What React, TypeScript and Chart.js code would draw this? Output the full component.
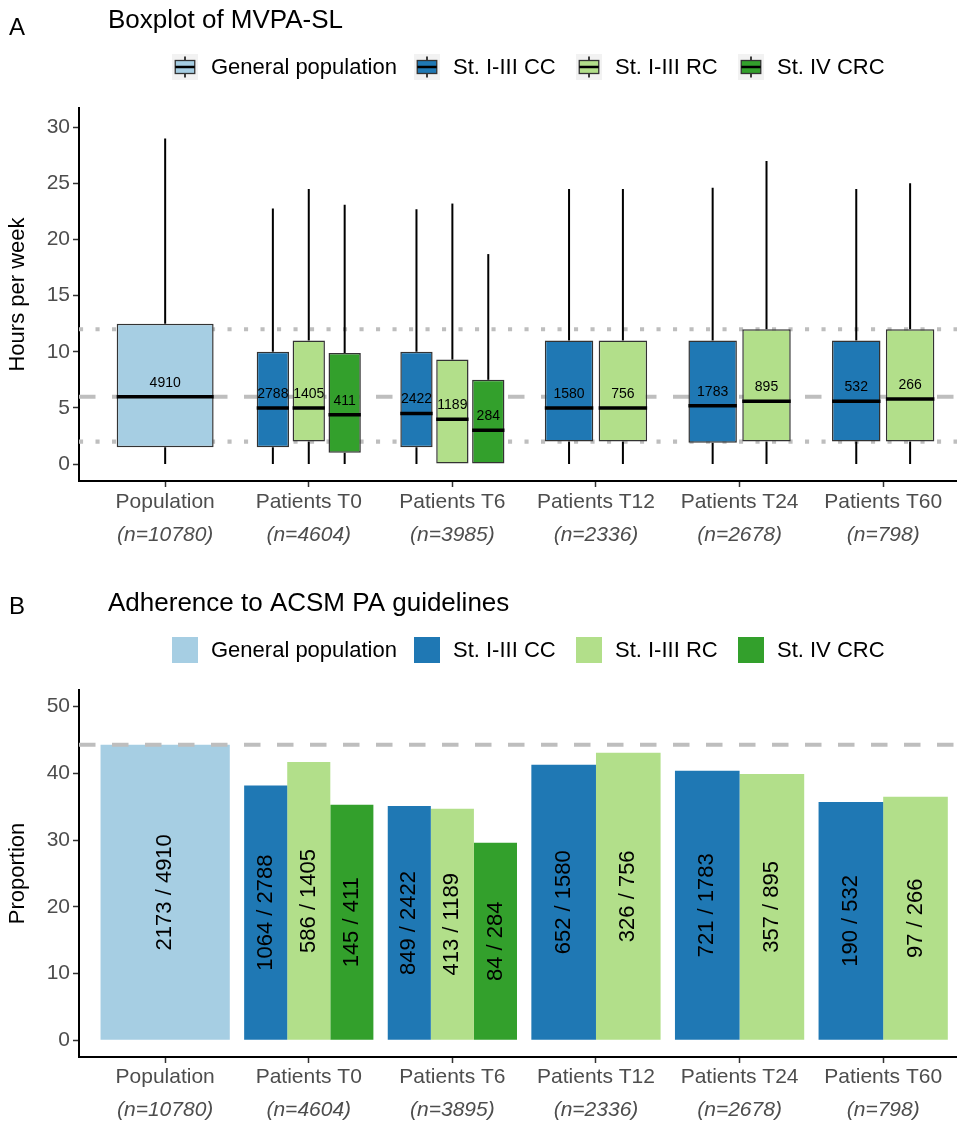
import React, { useEffect, useRef } from 'react';
import { Chart, registerables } from 'chart.js';

Chart.register(...registerables);

const FONT = '"Liberation Sans", Arial, Helvetica, sans-serif';

// ---------- shared categories / series ----------
const categories = ['Population', 'Patients T0', 'Patients T6', 'Patients T12', 'Patients T24', 'Patients T60'];
const boxSampleLabels = ['(n=10780)', '(n=4604)', '(n=3985)', '(n=2336)', '(n=2678)', '(n=798)'];
const barSampleLabels = ['(n=10780)', '(n=4604)', '(n=3895)', '(n=2336)', '(n=2678)', '(n=798)'];
const seriesNames = ['General population', 'St. I-III CC', 'St. I-III RC', 'St. IV CRC'];
const seriesColors = ['#A6CEE3', '#1F78B4', '#B2DF8A', '#33A02C'];

// ---------- panel A: boxplot stats [min, q1, median, q3, max] ----------
const boxGeneral = [[0, 1.5, 6, 12.5, 29], null, null, null, null, null];
const boxCC = [null, [0, 1.5, 5, 10, 22.75], [0, 1.5, 4.5, 10, 22.7], [0, 2, 5, 11, 24.5], [0, 1.9, 5.2, 11, 24.6], [0, 2, 5.6, 11, 24.5]];
const boxRC = [null, [0, 2, 5, 11, 24.5], [0, 0, 4, 9.3, 23.2], [0, 2, 5, 11, 24.5], [0, 2, 5.6, 12, 27], [0, 2, 5.8, 12, 25]];
const boxCRC = [null, [0, 1, 4.4, 9.9, 23.1], [0, 0, 3, 7.5, 18.7], null, null, null];
const boxCountGeneral = [4910, null, null, null, null, null];
const boxCountCC = [null, 2788, 2422, 1580, 1783, 532];
const boxCountRC = [null, 1405, 1189, 756, 895, 266];
const boxCountCRC = [null, 411, 284, null, null, null];
const boxYTicks = [0, 5, 10, 15, 20, 25, 30];
const boxRefMedian = 6;
const boxRefLow = 2;
const boxRefHigh = 12;

// ---------- panel B: adherence proportions ----------
const propGeneral = [44.3, null, null, null, null, null];
const propCC = [null, 38.2, 35.1, 41.3, 40.4, 35.7];
const propRC = [null, 41.7, 34.7, 43.1, 39.9, 36.5];
const propCRC = [null, 35.3, 29.6, null, null, null];
const numGeneral = [2173, null, null, null, null, null];
const numCC = [null, 1064, 849, 652, 721, 190];
const numRC = [null, 586, 413, 326, 357, 97];
const numCRC = [null, 145, 84, null, null, null];
const denGeneral = [4910, null, null, null, null, null];
const denCC = [null, 2788, 2422, 1580, 1783, 532];
const denRC = [null, 1405, 1189, 756, 895, 266];
const denCRC = [null, 411, 284, null, null, null];
const barYTicks = [0, 10, 20, 30, 40, 50];
const barRefLine = 44.3;

// ---------- layout helpers ----------
const X_MIN = 0.4;
const X_MAX = 6.514;
const xTickValues = categories.map((_, i) => i + 1);

type Item = { s: number; c: number; n: number; x: number; width: number };

function placeItems(series: any[][], total: number, fill: number): Item[] {
  const items: Item[] = [];
  for (let c = 0; c < categories.length; c++) {
    const present: number[] = [];
    series.forEach((arr, s) => { if (arr[c] != null) present.push(s); });
    const n = present.length;
    const slot = total / n;
    present.forEach((s, k) => {
      items.push({ s, c, n, x: c + 1 + (k - (n - 1) / 2) * slot, width: slot * fill });
    });
  }
  return items;
}

function minSpacing(items: Item[]): number {
  const xs = Array.from(new Set(items.map((it) => it.x))).sort((a, b) => a - b);
  let m = Infinity;
  for (let i = 1; i < xs.length; i++) m = Math.min(m, xs[i] - xs[i - 1]);
  for (let i = 1; i < xTickValues.length; i++) m = Math.min(m, xTickValues[i] - xTickValues[i - 1]);
  return m;
}

function buildDatasets(items: Item[], pointFn: (it: Item) => any, extraFn: (it: Item) => any, border: number) {
  const md = minSpacing(items);
  const groups = new Map<string, Item[]>();
  items.forEach((it) => {
    const k = `${it.s}-${it.n}`;
    if (!groups.has(k)) groups.set(k, []);
    groups.get(k)!.push(it);
  });
  const ds: any[] = [];
  groups.forEach((its) => {
    const s = its[0].s;
    ds.push({
      type: 'bar',
      label: seriesNames[s],
      data: its.map(pointFn),
      extra: its.map(extraFn),
      backgroundColor: seriesColors[s],
      borderColor: '#333333',
      borderWidth: border,
      borderSkipped: false,
      grouped: false,
      categoryPercentage: 1,
      barPercentage: its[0].width / md,
    });
  });
  return ds;
}

function hLine(ctx: CanvasRenderingContext2D, area: any, y: number, dash: number[], width: number) {
  ctx.save();
  ctx.strokeStyle = '#BEBEBE';
  ctx.lineWidth = width;
  ctx.lineCap = 'butt';
  ctx.setLineDash(dash);
  ctx.beginPath();
  ctx.moveTo(area.left, y);
  ctx.lineTo(area.right, y);
  ctx.stroke();
  ctx.restore();
}

function drawHeader(ctx: CanvasRenderingContext2D, tag: string, title: string, tagY: number, titleY: number) {
  ctx.save();
  ctx.fillStyle = '#000';
  ctx.textBaseline = 'middle';
  ctx.textAlign = 'left';
  ctx.font = `24px ${FONT}`;
  ctx.fillText(tag, 9, tagY);
  ctx.font = `26px ${FONT}`;
  ctx.fillText(title, 108, titleY);
  ctx.restore();
}

function drawLegend(ctx: CanvasRenderingContext2D, y: number, kind: 'box' | 'bar') {
  const keyXs = [172, 414, 576, 738];
  const k = 26;
  ctx.save();
  seriesNames.forEach((name, i) => {
    const kx = keyXs[i];
    const ky = y - k / 2;
    if (kind === 'box') {
      ctx.fillStyle = '#F2F2F2';
      ctx.fillRect(kx, ky, k, k);
      ctx.strokeStyle = '#000';
      ctx.lineWidth = 1.5;
      ctx.beginPath();
      ctx.moveTo(kx + k / 2, ky + k * 0.1);
      ctx.lineTo(kx + k / 2, ky + k * 0.9);
      ctx.stroke();
      ctx.fillStyle = seriesColors[i];
      ctx.fillRect(kx + k * 0.125, ky + k * 0.25, k * 0.75, k * 0.5);
      ctx.strokeStyle = '#333333';
      ctx.lineWidth = 1.3;
      ctx.strokeRect(kx + k * 0.125, ky + k * 0.25, k * 0.75, k * 0.5);
      ctx.strokeStyle = '#000';
      ctx.lineWidth = 2.5;
      ctx.beginPath();
      ctx.moveTo(kx + k * 0.125, ky + k / 2);
      ctx.lineTo(kx + k * 0.875, ky + k / 2);
      ctx.stroke();
    } else {
      ctx.fillStyle = seriesColors[i];
      ctx.fillRect(kx, ky, k, k);
    }
    ctx.fillStyle = '#000';
    ctx.font = `22px ${FONT}`;
    ctx.textBaseline = 'middle';
    ctx.textAlign = 'left';
    ctx.fillText(name, kx + 39, y + 1);
  });
  ctx.restore();
}

function drawXLabels(chart: any, sample: string[], y1: number, y2: number) {
  const { ctx, scales } = chart;
  ctx.save();
  ctx.fillStyle = '#4D4D4D';
  ctx.textAlign = 'center';
  ctx.textBaseline = 'middle';
  categories.forEach((cat, i) => {
    const x = scales.x.getPixelForValue(xTickValues[i]);
    ctx.font = `21px ${FONT}`;
    ctx.fillText(cat, x, y1);
    ctx.font = `italic 21px ${FONT}`;
    ctx.fillText(sample[i], x, y2);
  });
  ctx.restore();
}

function drawYTitle(chart: any, text: string) {
  const { ctx, chartArea } = chart;
  ctx.save();
  ctx.fillStyle = '#000';
  ctx.font = `22px ${FONT}`;
  ctx.textAlign = 'center';
  ctx.textBaseline = 'middle';
  ctx.translate(18, (chartArea.top + chartArea.bottom) / 2);
  ctx.rotate(-Math.PI / 2);
  ctx.fillText(text, 0, 0);
  ctx.restore();
}

function commonScales(yMin: number, yMax: number, yTicks: number[], leftWidth: number, bottomHeight: number) {
  return {
    x: {
      type: 'linear',
      min: X_MIN,
      max: X_MAX,
      offset: false,
      bounds: 'data',
      afterBuildTicks: (s: any) => { s.ticks = xTickValues.map((v) => ({ value: v })); },
      afterFit: (s: any) => { s.height = bottomHeight; },
      ticks: { callback: () => '', padding: 0 },
      grid: { display: true, offset: false, drawOnChartArea: false, drawTicks: true, tickLength: 6, tickColor: '#333333', tickWidth: 1.5 },
      border: { display: true, color: '#000', width: 2 },
    },
    y: {
      type: 'linear',
      min: yMin,
      max: yMax,
      bounds: 'data',
      beginAtZero: false,
      afterBuildTicks: (s: any) => { s.ticks = yTicks.map((v) => ({ value: v })); },
      afterFit: (s: any) => { s.width = leftWidth; },
      ticks: { color: '#4D4D4D', font: { family: FONT, size: 21 }, padding: 3 },
      grid: { display: true, drawOnChartArea: false, drawTicks: true, tickLength: 6, tickColor: '#333333', tickWidth: 1.5 },
      border: { display: true, color: '#000', width: 2 },
    },
  };
}

// ---------- Panel A ----------
function BoxPanel() {
  const ref = useRef<HTMLCanvasElement>(null);
  useEffect(() => {
    const boxes = [boxGeneral, boxCC, boxRC, boxCRC];
    const counts = [boxCountGeneral, boxCountCC, boxCountRC, boxCountCRC];
    const items = placeItems(boxes, 0.75, 0.9);
    const datasets = buildDatasets(
      items,
      (it) => ({ x: it.x, y: [(boxes[it.s][it.c] as number[])[1], (boxes[it.s][it.c] as number[])[3]] }),
      (it) => ({ stats: boxes[it.s][it.c], count: counts[it.s][it.c] }),
      1.5
    );
    const plugin = {
      id: 'boxExtras',
      beforeDatasetsDraw(chart: any) {
        const { ctx, chartArea, scales } = chart;
        hLine(ctx, chartArea, scales.y.getPixelForValue(boxRefHigh), [4.1, 12.4], 4.1);
        hLine(ctx, chartArea, scales.y.getPixelForValue(boxRefLow), [4.1, 12.4], 4.1);
        hLine(ctx, chartArea, scales.y.getPixelForValue(boxRefMedian), [16.5, 16.5], 4.1);
        ctx.save();
        ctx.strokeStyle = '#000';
        ctx.lineWidth = 2;
        chart.data.datasets.forEach((ds: any, di: number) => {
          chart.getDatasetMeta(di).data.forEach((el: any, i: number) => {
            const st = ds.extra[i].stats;
            const p = el.getProps(['x'], true);
            ctx.beginPath();
            ctx.moveTo(p.x, scales.y.getPixelForValue(st[3]));
            ctx.lineTo(p.x, scales.y.getPixelForValue(st[4]));
            ctx.moveTo(p.x, scales.y.getPixelForValue(st[1]));
            ctx.lineTo(p.x, scales.y.getPixelForValue(st[0]));
            ctx.stroke();
          });
        });
        ctx.restore();
      },
      afterDatasetsDraw(chart: any) {
        const { ctx, scales } = chart;
        ctx.save();
        chart.data.datasets.forEach((ds: any, di: number) => {
          chart.getDatasetMeta(di).data.forEach((el: any, i: number) => {
            const { stats, count } = ds.extra[i];
            const p = el.getProps(['x', 'width'], true);
            const my = scales.y.getPixelForValue(stats[2]);
            ctx.strokeStyle = '#000';
            ctx.lineWidth = 3.5;
            ctx.beginPath();
            ctx.moveTo(p.x - p.width / 2, my);
            ctx.lineTo(p.x + p.width / 2, my);
            ctx.stroke();
            ctx.fillStyle = '#000';
            ctx.font = `14px ${FONT}`;
            ctx.textAlign = 'center';
            ctx.textBaseline = 'middle';
            ctx.fillText(String(count), p.x, my - 14);
          });
        });
        ctx.restore();
      },
      afterDraw(chart: any) {
        const { ctx } = chart;
        drawHeader(ctx, 'A', 'Boxplot of MVPA-SL', 28, 21);
        drawLegend(ctx, 67, 'box');
        drawYTitle(chart, 'Hours per week');
        drawXLabels(chart, boxSampleLabels, 502, 535);
      },
    };
    const chart = new Chart(ref.current!, {
      type: 'bar',
      data: { datasets },
      options: {
        responsive: false,
        animation: false,
        events: [],
        layout: { padding: { top: 108, left: 0, right: 0, bottom: 0 } },
        plugins: { legend: { display: false }, tooltip: { enabled: false }, title: { display: false } },
        scales: commonScales(-1.51, 31.71, boxYTicks, 79, 570 - 481) as any,
      },
      plugins: [plugin],
    } as any);
    return () => chart.destroy();
  }, []);
  return <canvas ref={ref} width={957} height={570} style={{ display: 'block', width: 957, height: 570 }} />;
}

// ---------- Panel B ----------
function BarPanel() {
  const ref = useRef<HTMLCanvasElement>(null);
  useEffect(() => {
    const props = [propGeneral, propCC, propRC, propCRC];
    const nums = [numGeneral, numCC, numRC, numCRC];
    const dens = [denGeneral, denCC, denRC, denCRC];
    const items = placeItems(props, 0.9, 1);
    const datasets = buildDatasets(
      items,
      (it) => ({ x: it.x, y: props[it.s][it.c] }),
      (it) => ({ label: `${nums[it.s][it.c]} / ${dens[it.s][it.c]}` }),
      0
    );
    const plugin = {
      id: 'barExtras',
      afterDatasetsDraw(chart: any) {
        const { ctx, chartArea, scales } = chart;
        hLine(ctx, chartArea, scales.y.getPixelForValue(barRefLine), [16.5, 16.5], 4.1);
        ctx.save();
        ctx.fillStyle = '#000';
        ctx.font = `22px ${FONT}`;
        ctx.textAlign = 'center';
        ctx.textBaseline = 'middle';
        chart.data.datasets.forEach((ds: any, di: number) => {
          chart.getDatasetMeta(di).data.forEach((el: any, i: number) => {
            const p = el.getProps(['x', 'y', 'base'], true);
            ctx.save();
            ctx.translate(p.x, (p.y + p.base) / 2);
            ctx.rotate(-Math.PI / 2);
            ctx.fillText(ds.extra[i].label, 0, 0);
            ctx.restore();
          });
        });
        ctx.restore();
      },
      afterDraw(chart: any) {
        const { ctx } = chart;
        drawHeader(ctx, 'B', 'Adherence to ACSM PA guidelines', 37, 34);
        drawLegend(ctx, 80, 'bar');
        drawYTitle(chart, 'Proportion');
        drawXLabels(chart, barSampleLabels, 507, 540);
      },
    };
    const chart = new Chart(ref.current!, {
      type: 'bar',
      data: { datasets },
      options: {
        responsive: false,
        animation: false,
        events: [],
        layout: { padding: { top: 120, left: 0, right: 0, bottom: 0 } },
        plugins: { legend: { display: false }, tooltip: { enabled: false }, title: { display: false } },
        scales: commonScales(-2.5, 52.5, barYTicks, 79, 553 - 487) as any,
      },
      plugins: [plugin],
    } as any);
    return () => chart.destroy();
  }, []);
  return <canvas ref={ref} width={957} height={553} style={{ display: 'block', width: 957, height: 553 }} />;
}

export default function App() {
  return (
    <div style={{ position: 'absolute', left: 0, top: 0, width: 957, height: 1123, background: '#fff' }}>
      <BoxPanel />
      <BarPanel />
    </div>
  );
}
